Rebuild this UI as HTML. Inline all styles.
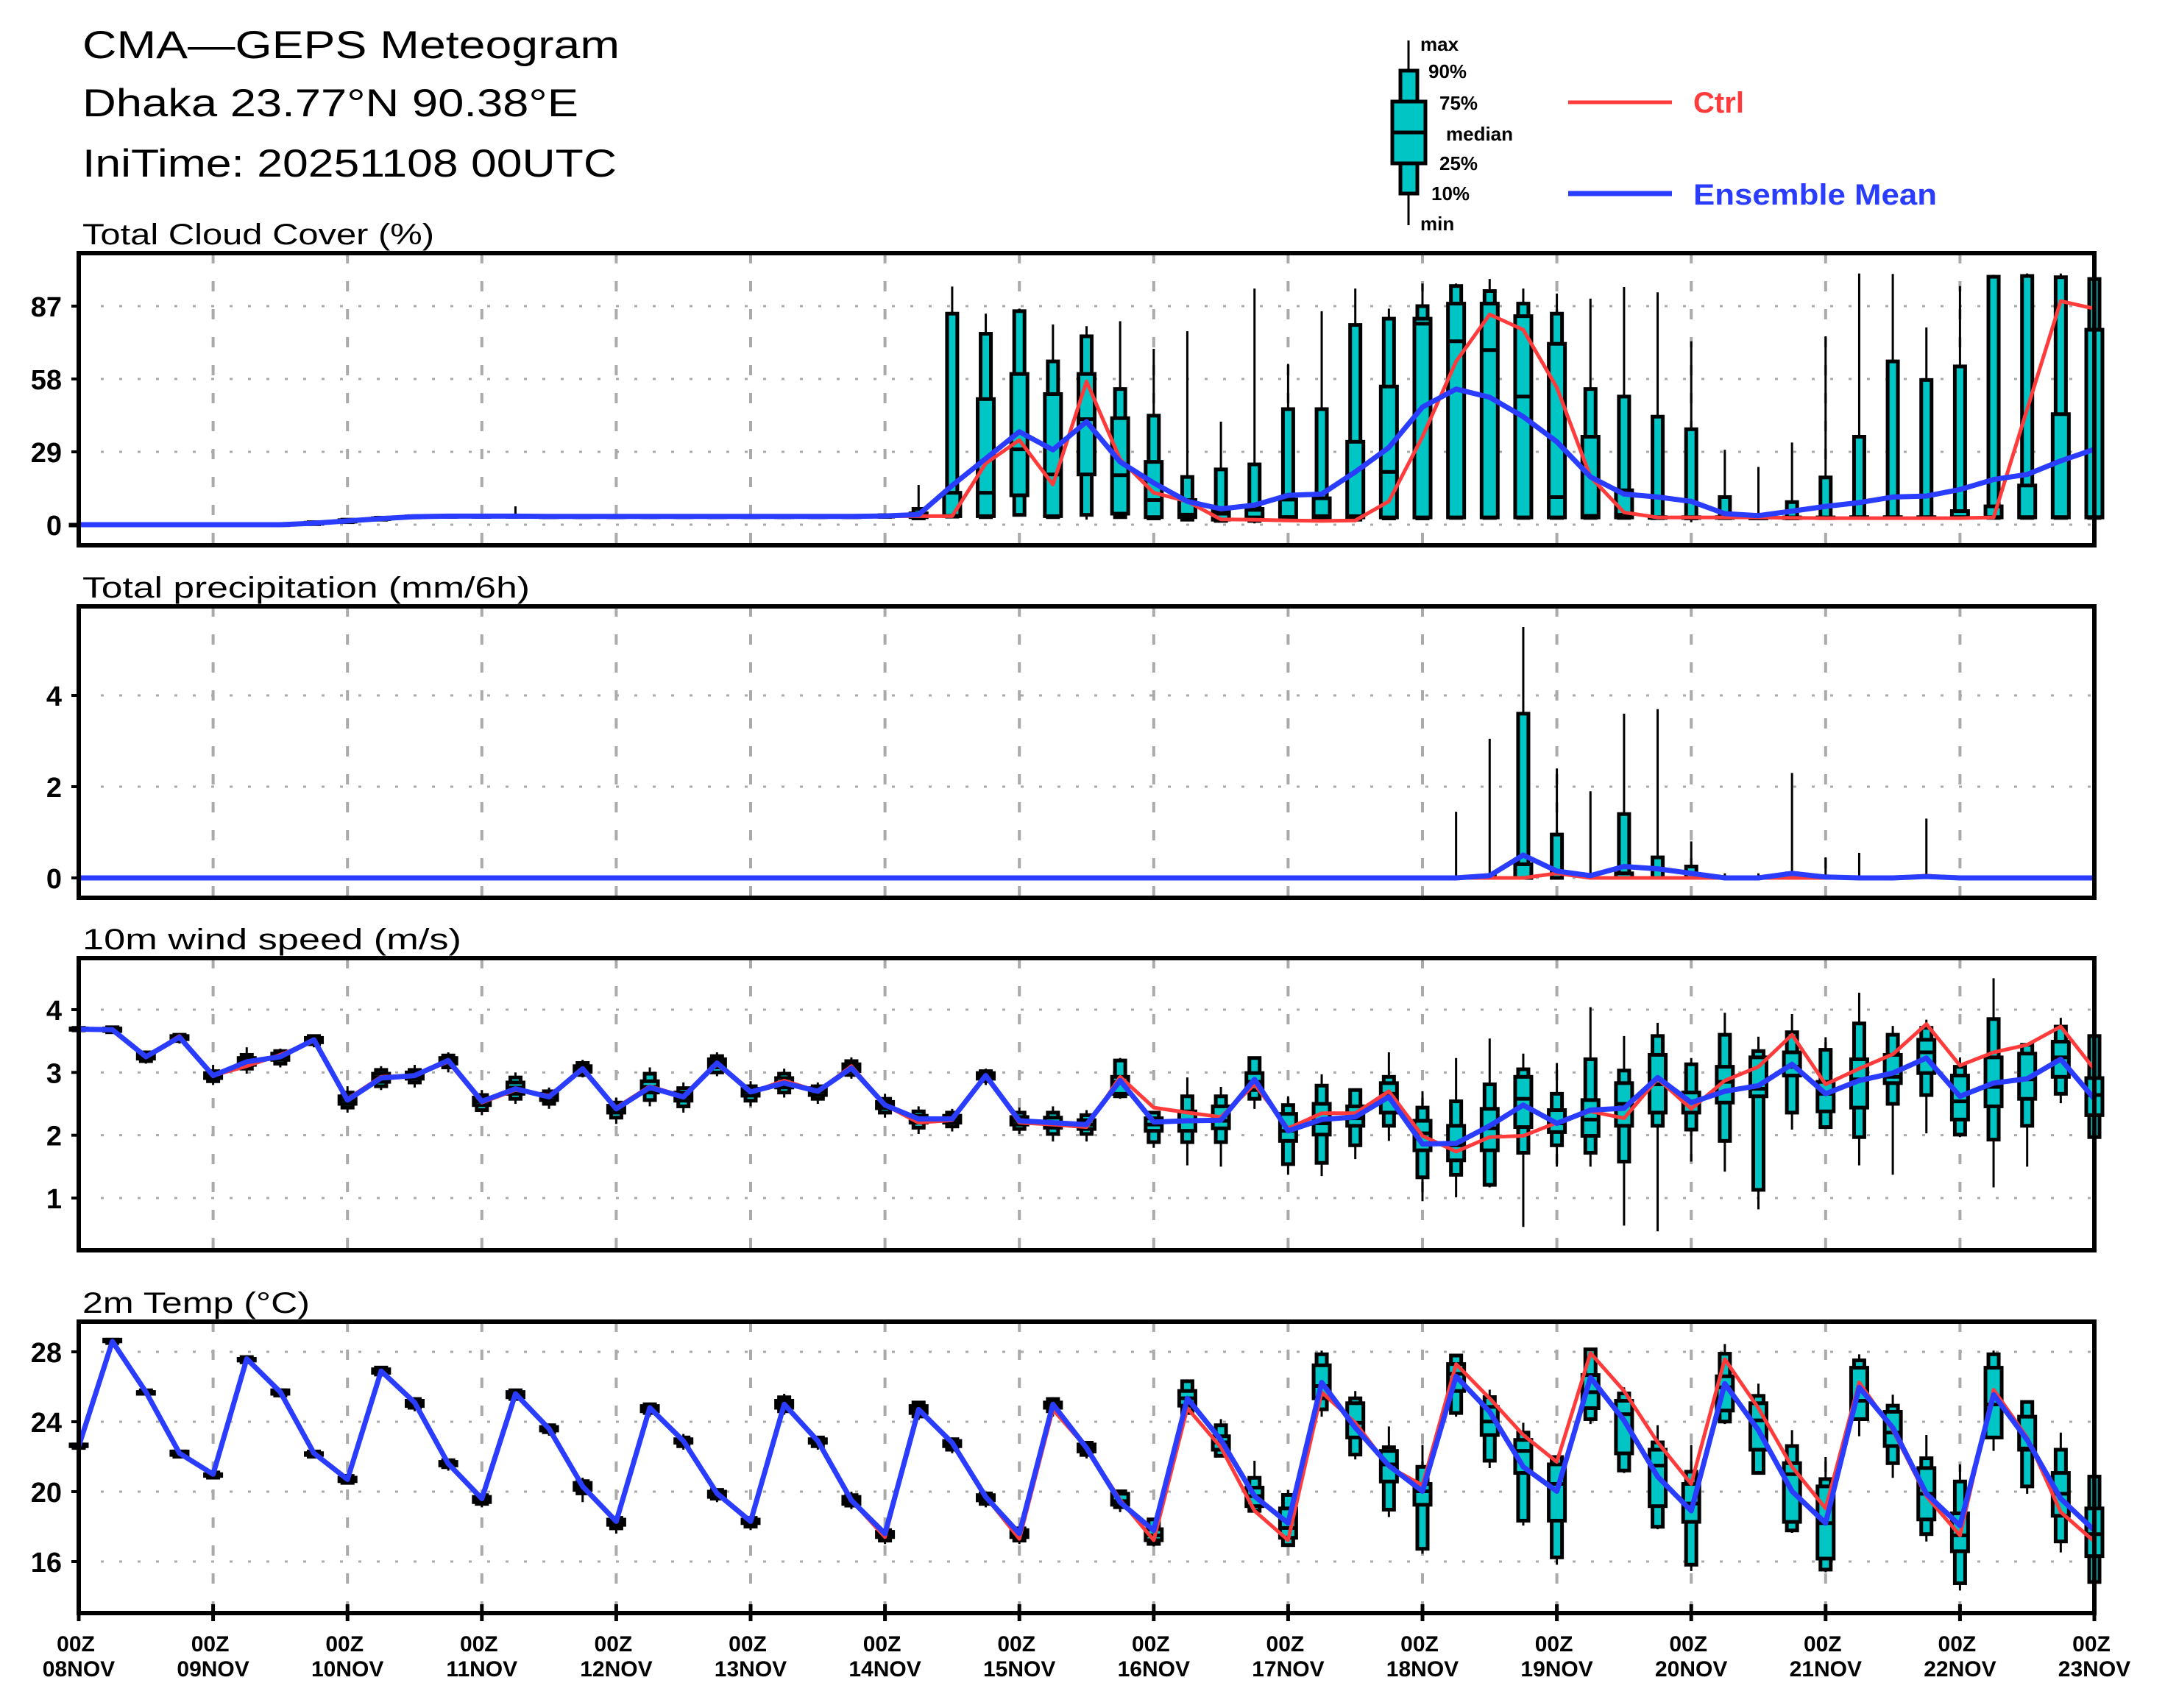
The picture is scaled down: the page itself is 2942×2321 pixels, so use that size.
<!DOCTYPE html>
<html><head><meta charset="utf-8"><style>
html,body{margin:0;padding:0;background:#fff;}
svg{display:block;font-family:"Liberation Sans",sans-serif;}
</style></head><body>
<svg id="chart" xmlns="http://www.w3.org/2000/svg" width="2942" height="2321" viewBox="0 0 2942 2321">
<rect width="2942" height="2321" fill="#fff"/>
<text x="112" y="79" font-size="53" textLength="730" lengthAdjust="spacingAndGlyphs">CMA—GEPS Meteogram</text>
<text x="112" y="158" font-size="53" textLength="674" lengthAdjust="spacingAndGlyphs">Dhaka 23.77°N 90.38°E</text>
<text x="112" y="240" font-size="53" textLength="726" lengthAdjust="spacingAndGlyphs">IniTime: 20251108 00UTC</text>
<g id="legend">
<line x1="1914" y1="55" x2="1914" y2="306" stroke="#000" stroke-width="3"/>
<rect x="1903" y="96" width="23" height="167" fill="#00c5c5" stroke="#000" stroke-width="5"/>
<rect x="1892" y="138" width="45" height="84" fill="#00c5c5" stroke="#000" stroke-width="5"/>
<line x1="1892" y1="180" x2="1937" y2="180" stroke="#000" stroke-width="5"/>
<g font-weight="bold" font-size="26">
<text x="1930" y="69">max</text>
<text x="1941" y="106">90%</text>
<text x="1956" y="149">75%</text>
<text x="1965" y="191">median</text>
<text x="1956" y="231">25%</text>
<text x="1945" y="272">10%</text>
<text x="1930" y="313">min</text>
</g>
<line x1="2131" y1="139" x2="2272" y2="139" stroke="#ff3b3b" stroke-width="5"/>
<text x="2301" y="153" font-size="40" font-weight="bold" fill="#ff3b3b" textLength="69" lengthAdjust="spacingAndGlyphs">Ctrl</text>
<line x1="2131" y1="263" x2="2272" y2="263" stroke="#2a3dff" stroke-width="7"/>
<text x="2301" y="278" font-size="40" font-weight="bold" fill="#2a3dff" textLength="331" lengthAdjust="spacingAndGlyphs">Ensemble Mean</text>
</g>
</svg>
<script>
// ---- time axis ----
const dayLabels = ["08NOV","09NOV","10NOV","11NOV","12NOV","13NOV","14NOV","15NOV","16NOV","17NOV","18NOV","19NOV","20NOV","21NOV","22NOV","23NOV"];
const nSteps = 61;

// ---- Total cloud cover (%) ----
const cloudTicks = [0,29,58,87];
const cloudCtrl = [0,0,0,0,0,0,0,0.5,1.4,2.3,3.1,3.3,3.3,3.3,3.2,3.2,3.2,3.2,3.2,3.2,3.2,3.2,3.2,3.2,3.4,3.4,3.4,24.4,33.7,16,57,26,12.7,9.3,2.1,2,1.7,1.5,1.7,9.3,35,65,83.7,77.6,54.6,19,4.9,2.9,2.9,2.9,2.9,2.7,2.6,2.6,2.6,2.6,2.6,2.9,46,89,86];
const cloudMean = [0,0,0,0,0,0,0,0.6,1.5,2.4,3.2,3.4,3.4,3.4,3.3,3.3,3.3,3.3,3.3,3.3,3.3,3.3,3.3,3.3,3.5,4,15.6,26.3,37,29.8,41,25,16.6,9.3,6.3,7.8,11.7,12.2,21,30.7,46.8,54,50.7,43,33,19,12.2,11,9.3,4.4,3.6,5.4,7.3,8.8,11,11.4,14,18,20,25.4,30];
const cloudMax = [0,0,0,0,0,0,0.3,1.2,2.5,3,3.5,3.6,3.6,7.3,3.5,3.5,3.5,3.5,3.5,3.5,3.5,3.5,3.5,3.5,4,15.8,94.8,84,86,79.7,79,81,70,77,41,94,64,85,94,86,96,96,97.8,94,92,90,94.6,92.5,73,29.8,23,32.7,75,100,99.8,78.5,95,99.5,100,100,97.8];
const cloudP90 = [0,0,0,0,0,0,0.2,1,2,2.8,3.4,3.5,3.5,3.5,3.4,3.4,3.4,3.4,3.4,3.4,3.4,3.4,3.4,3.4,3.8,6.3,84,76,85,65,75,54,43.4,19,22,24,46,46,79.5,82,87,95,93,88,84,54,51,43,38,11,2.9,9,18.8,35,65,57.6,63,98.7,99,98.5,97.8];
const cloudP75 = [0,0,0,0,0,0,0.1,0.8,1.8,2.6,3.3,3.4,3.4,3.4,3.3,3.3,3.3,3.3,3.3,3.3,3.3,3.3,3.3,3.3,3.6,4.5,12.7,50,60,52,60,42.4,25,9.8,5.4,6.3,10,10.5,33,55,82,88,88,83,72,35,13.7,3,3,3,2.8,2.9,2.9,3,3,3,5.4,7.3,15.6,44,77.6];
const cloudMed = [0,0,0,0,0,0,0,0.6,1.5,2.4,3.2,3.3,3.3,3.3,3.2,3.2,3.2,3.2,3.2,3.2,3.2,3.2,3.2,3.2,3.4,3.5,3.5,12.7,30,20,42,19.7,9.8,4,4.4,5.9,3,3.4,3.4,21,80,73,69.5,51,11,3.5,3.9,2.9,2.9,2.9,2.7,2.8,2.8,2.9,2.9,2.9,3,3,3,3,3];
const cloudP25 = [0,0,0,0,0,0,0,0.4,1.2,2.2,3,3.2,3.2,3.2,3.1,3.1,3.1,3.1,3.1,3.1,3.1,3.1,3.1,3.1,3.2,3,3.4,3.4,11.7,3.4,20,4.4,3,3,2,2.9,3,2.9,2.9,2.9,2.9,2.9,2.9,2.9,2.9,2.9,2.9,2.8,2.8,2.8,2.6,2.7,2.7,2.8,2.8,2.8,2.9,2.9,2.9,2.9,2.9];
const cloudP10 = [0,0,0,0,0,0,0,0.2,1,2,2.9,3.1,3.1,3.1,3,3,3,3,3,3,3,3,3,3,3.1,2.5,3.2,3,3.9,3,3.9,3,2.5,2,1.5,1.5,2.5,2.5,2,2.5,2.5,2.7,2.7,2.7,2.7,2.7,2.7,2.6,2.5,2.6,2.5,2.5,2.6,2.7,2.7,2.7,2.7,2.7,2.7,2.7,2.7];
const cloudMin = [0,0,0,0,0,0,0,0,0.8,1.8,2.8,3,3,3,2.9,2.9,2.9,2.9,2.9,2.9,2.9,2.9,2.9,2.9,3,2,3,2.7,3.4,2.9,2,2.4,2.1,1.5,1.2,0.5,2.4,2.4,1,2,2.4,2.5,2.5,2.4,2.4,2.4,2.4,1.9,1,2.4,2.4,2.4,2.5,2.5,2.5,2.5,2.5,2.5,2.5,2.5,2.5];

// ---- Total precipitation (mm/6h) ----
const precipTicks = [0,2,4];
const precipCtrl = [0,0,0,0,0,0,0,0,0,0,0,0,0,0,0,0,0,0,0,0,0,0,0,0,0,0,0,0,0,0,0,0,0,0,0,0,0,0,0,0,0,0,0,0,0.1,0,0,0,0,0,0,0,0,0,0,0.05,0,0,0,0,0];
const precipMean = [0,0,0,0,0,0,0,0,0,0,0,0,0,0,0,0,0,0,0,0,0,0,0,0,0,0,0,0,0,0,0,0,0,0,0,0,0,0,0,0,0,0,0.05,0.5,0.15,0.05,0.25,0.2,0.1,0,0,0.1,0.02,0,0,0.03,0,0,0,0,0];
const precipMax = [0,0,0,0,0,0,0,0,0,0,0,0,0,0,0,0,0,0,0,0,0,0,0,0,0,0,0,0,0,0,0,0,0,0,0,0,0,0,0,0,0,1.45,3.05,5.5,2.4,1.9,3.6,3.7,0.8,0.1,0.1,2.3,0.45,0.55,0.05,1.3,0.05,0,0,0,0.1];
const precipP90 = [0,0,0,0,0,0,0,0,0,0,0,0,0,0,0,0,0,0,0,0,0,0,0,0,0,0,0,0,0,0,0,0,0,0,0,0,0,0,0,0,0,0,0.05,3.6,0.95,0,1.4,0.45,0.25,0,0,0.1,0,0,0,0,0,0,0,0,0];
const precipP75 = [0,0,0,0,0,0,0,0,0,0,0,0,0,0,0,0,0,0,0,0,0,0,0,0,0,0,0,0,0,0,0,0,0,0,0,0,0,0,0,0,0,0,0,0.3,0,0,0.1,0,0,0,0,0,0,0,0,0,0,0,0,0,0];

// ---- 10m wind speed (m/s) ----
const windTicks = [1,2,3,4];
const windCtrl = [3.69,3.68,3.25,3.58,2.95,3.1,3.28,3.50,2.58,2.93,2.95,3.17,2.52,2.72,2.63,3.04,2.44,2.78,2.62,3.13,2.68,2.87,2.70,3.1,2.48,2.2,2.24,2.95,2.2,2.17,2.13,2.93,2.44,2.36,2.29,2.81,2.11,2.35,2.35,2.70,1.99,1.74,1.97,1.99,2.2,2.38,2.27,2.90,2.42,2.87,3.09,3.60,2.81,3.06,3.29,3.77,3.11,3.32,3.44,3.73,3.05];
const windMean = [3.69,3.68,3.25,3.56,2.95,3.17,3.25,3.52,2.56,2.91,2.95,3.19,2.54,2.74,2.61,3.06,2.42,2.76,2.61,3.15,2.69,2.83,2.70,3.07,2.48,2.26,2.26,2.95,2.23,2.20,2.17,2.87,2.21,2.23,2.24,2.89,2.07,2.25,2.29,2.61,1.86,1.87,2.15,2.48,2.19,2.40,2.43,2.92,2.52,2.70,2.79,3.13,2.66,2.87,2.99,3.23,2.62,2.83,2.90,3.21,2.58];
const windMax = [3.72,3.74,3.35,3.62,3.12,3.40,3.38,3.60,2.78,3.10,3.12,3.32,2.72,3.00,2.76,3.20,2.60,3.08,2.84,3.32,2.86,3.06,2.84,3.24,2.66,2.46,2.42,3.06,2.44,2.46,2.40,3.23,2.38,2.92,2.77,3.23,2.62,2.97,2.74,3.32,2.70,3.23,3.54,3.30,3.15,4.04,3.58,3.79,3.23,3.95,3.57,3.93,3.56,4.27,3.74,3.84,3.24,4.50,3.45,3.87,3.58];
const windP90 = [3.71,3.72,3.32,3.60,3.02,3.28,3.34,3.58,2.68,3.04,3.04,3.27,2.64,2.92,2.70,3.15,2.52,2.98,2.75,3.26,2.78,2.98,2.78,3.18,2.58,2.38,2.36,3.02,2.36,2.36,2.32,3.19,2.36,2.62,2.62,3.23,2.48,2.79,2.72,2.93,2.44,2.54,2.81,3.05,2.66,3.21,3.03,3.58,3.13,3.60,3.34,3.64,3.36,3.78,3.60,3.71,3.09,3.85,3.44,3.73,3.58];
const windP75 = [3.70,3.70,3.29,3.58,2.99,3.23,3.30,3.55,2.62,2.98,3.00,3.23,2.60,2.84,2.66,3.10,2.47,2.86,2.68,3.21,2.74,2.91,2.75,3.13,2.53,2.31,2.31,2.99,2.29,2.28,2.24,2.93,2.27,2.38,2.46,2.99,2.34,2.50,2.46,2.83,2.23,2.15,2.42,2.93,2.40,2.56,2.83,3.28,2.68,3.09,3.24,3.32,2.85,3.21,3.28,3.52,2.95,3.24,3.30,3.49,2.91];
const windMed = [3.69,3.68,3.26,3.56,2.95,3.18,3.25,3.52,2.56,2.92,2.95,3.19,2.54,2.76,2.62,3.06,2.42,2.77,2.61,3.15,2.69,2.84,2.70,3.08,2.48,2.26,2.26,2.95,2.23,2.20,2.17,2.85,2.17,2.23,2.23,2.85,2.07,2.19,2.27,2.66,2.03,1.84,2.11,2.58,2.19,2.25,2.50,2.81,2.54,2.85,2.74,3.09,2.66,2.89,2.93,3.32,2.54,2.77,2.89,3.24,2.64];
const windP25 = [3.68,3.66,3.22,3.53,2.91,3.12,3.20,3.48,2.50,2.85,2.90,3.14,2.48,2.66,2.56,3.01,2.36,2.68,2.55,3.08,2.63,2.76,2.64,3.02,2.43,2.20,2.20,2.90,2.17,2.12,2.10,2.66,2.07,2.07,2.11,2.72,1.91,2.01,2.15,2.36,1.76,1.60,1.76,2.13,2.05,1.99,2.15,2.36,2.36,2.52,2.62,2.95,2.38,2.44,2.83,2.99,2.25,2.46,2.58,2.93,2.32];
const windP10 = [3.67,3.64,3.18,3.50,2.86,3.06,3.14,3.45,2.44,2.78,2.84,3.08,2.40,2.58,2.50,2.96,2.28,2.56,2.46,3.00,2.55,2.68,2.58,2.96,2.36,2.12,2.14,2.86,2.10,2.02,2.02,2.62,1.89,1.89,1.89,2.58,1.54,1.56,1.84,2.15,1.33,1.37,1.21,1.72,1.84,1.72,1.58,2.15,2.09,1.91,1.13,2.36,2.13,1.97,2.50,2.64,2.01,1.93,2.15,2.66,1.97];
const windMin = [3.66,3.62,3.14,3.46,2.80,2.98,3.08,3.40,2.36,2.72,2.76,3.00,2.32,2.50,2.42,2.92,2.18,2.46,2.36,2.94,2.46,2.60,2.50,2.90,2.28,2.02,2.06,2.80,2.02,1.90,1.90,2.58,1.80,1.52,1.50,2.42,1.37,1.35,1.62,1.91,0.95,1.01,1.17,0.54,1.50,1.50,0.56,0.47,1.58,1.42,0.82,2.09,2.11,1.52,1.37,2.03,1.97,1.17,1.50,2.51,1.84];

// ---- 2m temperature (°C) ----
const tempTicks = [16,20,24,28];
const tempCtrl = [22.6,28.6,25.7,22.2,21.0,27.6,25.7,22.2,20.7,26.9,25.1,21.6,19.6,25.6,23.6,20.3,18.3,24.8,22.9,19.9,18.3,25.0,22.9,19.5,17.4,24.7,22.8,19.7,17.3,24.7,22.5,19.53,17.22,24.78,22.54,18.90,17.22,25.69,23.94,21.42,20.37,27.30,25.34,23.24,21.70,27.93,25.76,22.82,20.44,27.58,24.78,21.42,19.04,26.25,23.52,19.74,17.5,25.83,23.10,18.83,17.15];
const tempMean = [22.6,28.6,25.7,22.2,21.0,27.6,25.7,22.2,20.7,26.9,25.1,21.6,19.6,25.6,23.6,20.3,18.3,24.8,22.9,19.9,18.3,25.0,22.9,19.5,17.6,24.7,22.8,19.7,17.6,25.0,22.5,19.39,17.78,25.34,22.96,19.74,18.2,26.25,23.66,21.49,20.02,26.6,24.57,21.42,20.02,26.53,24.08,20.86,18.9,26.18,23.52,20.02,18.2,25.97,23.66,19.88,18.06,25.55,22.96,19.60,17.78];
const tempMax = [22.7,28.8,25.8,22.4,21.2,27.8,25.9,22.3,21.0,27.2,25.4,21.9,19.9,25.9,23.9,20.8,18.6,25.1,23.3,20.2,18.6,25.6,23.2,20.0,17.9,25.2,23.1,20.0,18.0,25.4,22.9,20.09,18.41,26.32,24.15,21.77,20.09,28.07,25.76,23.73,22.68,27.86,25.83,23.94,22.05,28.14,25.97,23.80,22.68,28.45,26.18,23.52,21.98,27.86,25.55,23.24,21.56,28.07,25.20,23.38,20.86];
const tempP90 = [22.7,28.7,25.8,22.3,21.1,27.7,25.8,22.3,20.9,27.1,25.3,21.8,19.8,25.8,23.8,20.6,18.5,25.0,23.1,20.1,18.5,25.4,23.1,19.8,17.8,25.1,23.0,19.9,17.9,25.3,22.8,20.02,18.41,26.32,23.80,20.79,19.81,27.86,25.34,22.54,21.42,27.79,25.41,23.38,21.98,28.14,25.62,22.82,21.14,27.89,25.48,22.61,20.72,27.51,24.92,21.91,20.58,27.86,25.13,22.40,20.86];
const tempP75 = [22.7,28.7,25.7,22.3,21.0,27.6,25.8,22.2,20.8,27.0,25.2,21.7,19.7,25.7,23.7,20.5,18.4,24.9,23.0,20.0,18.4,25.2,23.0,19.7,17.7,24.9,22.9,19.8,17.8,25.1,22.7,19.88,17.85,25.76,23.17,20.23,19.04,27.23,25.06,22.33,20.44,27.30,24.85,22.96,21.56,26.67,25.20,22.40,20.44,26.60,25.06,21.63,20.30,27.09,24.57,21.35,18.76,27.09,24.29,21.07,19.04];
const tempMed = [22.6,28.6,25.7,22.2,21.0,27.6,25.7,22.2,20.7,26.9,25.1,21.6,19.6,25.6,23.6,20.3,18.3,24.8,22.9,19.9,18.3,25.0,22.9,19.5,17.6,24.7,22.8,19.7,17.6,25.0,22.5,19.46,17.50,25.34,22.82,19.74,17.92,26.04,23.94,21.56,20.02,26.74,24.01,22.33,20.44,25.69,24.43,21.49,19.32,25.97,24.08,21.00,18.2,25.20,23.38,19.88,17.50,24.99,22.47,19.88,17.57];
const tempP25 = [22.6,28.6,25.6,22.1,20.9,27.5,25.6,22.1,20.6,26.8,24.9,21.5,19.4,25.4,23.5,20.1,18.1,24.6,22.8,19.7,18.2,24.8,22.8,19.3,17.4,24.5,22.6,19.5,17.4,24.8,22.3,19.25,17.22,24.92,22.40,19.17,17.36,25.34,23.10,20.58,19.25,25.76,23.24,21.07,18.34,24.78,22.19,19.17,18.27,24.64,22.40,18.27,16.17,24.15,22.61,18.41,16.59,23.10,22.40,18.62,16.31];
const tempP10 = [22.5,28.5,25.6,22.0,20.8,27.4,25.5,22.0,20.5,26.7,24.8,21.4,19.3,25.3,23.4,19.9,17.9,24.5,22.6,19.6,18.0,24.6,22.6,19.2,17.2,24.3,22.4,19.3,17.2,24.6,22.1,19.11,17.01,24.50,22.05,18.90,16.94,24.71,22.12,18.97,16.73,24.50,21.77,18.34,16.24,24.15,21.21,17.99,15.82,24.01,21.07,17.78,15.54,24.15,21.63,17.57,14.76,23.10,20.30,17.15,14.83];
const tempMin = [22.5,28.5,25.5,21.9,20.7,27.3,25.4,21.9,20.4,26.6,24.6,21.2,19.1,25.2,23.2,19.4,17.6,24.3,22.4,19.4,17.8,24.4,22.4,19.0,17.0,24.1,22.2,19.1,17.0,24.3,21.9,18.83,16.87,24.50,22.05,18.90,16.87,24.29,21.84,18.55,16.45,24.29,21.35,18.06,15.82,23.87,21.07,17.85,15.46,23.87,21.00,17.64,15.39,23.17,20.79,17.15,14.34,22.33,19.88,16.52,14.83];

// ---- layout ----
const NS = "http://www.w3.org/2000/svg";
const svg = document.getElementById("chart");
const X0 = 107, X1 = 2846;
function xScale(i){ return X0 + (X1 - X0) * i / (nSteps - 1); }
function mk(tag, attrs, parent){
  const e = document.createElementNS(NS, tag);
  for (const k in attrs) e.setAttribute(k, attrs[k]);
  (parent || svg).appendChild(e);
  return e;
}
function linY(v0, y0, v1, y1){ return v => y0 + (v - v0) * (y1 - y0) / (v1 - v0); }

const panels = [
  {key:"cloud", title:"Total Cloud Cover (%)", titleW:478, top:344, bot:741, y:linY(0,713,87,416), ticks:cloudTicks,
   ctrl:cloudCtrl, mean:cloudMean, box:[cloudMin,cloudP10,cloudP25,cloudMed,cloudP75,cloudP90,cloudMax]},
  {key:"precip", title:"Total precipitation (mm/6h)", titleW:608, top:824, bot:1220, y:linY(0,1193,4,945), ticks:precipTicks,
   ctrl:precipCtrl, mean:precipMean, box:null},
  {key:"wind", title:"10m wind speed (m/s)", titleW:515, top:1302, bot:1699, y:linY(1,1628,4,1372), ticks:windTicks,
   ctrl:windCtrl, mean:windMean, box:[windMin,windP10,windP25,windMed,windP75,windP90,windMax]},
  {key:"temp", title:"2m Temp (°C)", titleW:309, top:1796, bot:2192, y:linY(16,2122,28,1837), ticks:tempTicks,
   ctrl:tempCtrl, mean:tempMean, box:[tempMin,tempP10,tempP25,tempMed,tempP75,tempP90,tempMax]}
];

panels.forEach(p => {
  const g = mk("g", {});
  
  
  const t = mk("text", {x:112, y:p.top-12, "font-size":40, textLength:p.titleW, lengthAdjust:"spacingAndGlyphs"}, g);
  
  
  t.textContent = p.title;
  for (let d = 1; d < dayLabels.length - 1; d++){
    const gx = xScale(d*4);
    const vl = mk("line", {x1:gx, y1:p.top, x2:gx, y2:p.bot, stroke:"#aaa", "stroke-width":4, "stroke-dasharray":"14 24"}, g);
    
    
  }
  p.ticks.forEach(tv => {
    const gy = p.y(tv);
    const hl = mk("line", {x1:X0+30, y1:gy, x2:X1, y2:gy, stroke:"#aaa", "stroke-width":3, "stroke-dasharray":"4 21"}, g);
    
    
    mk("line", {x1:X0-10, y1:gy, x2:X0, y2:gy, stroke:"#000", "stroke-width":4}, g);
    const tl = mk("text", {x:84, y:gy+14, "font-size":38, "font-weight":"bold", "text-anchor":"end"}, g);
    
    
    tl.textContent = String(tv);
  });
  if (p.box){
    const [mn,p10,p25,md,p75,p90,mx] = p.box;
    for (let i = 0; i < nSteps; i++){
      const bx = xScale(i);
      const bg = mk("g", {}, g);
      
      
      mk("line", {x1:bx, y1:p.y(mx[i]), x2:bx, y2:p.y(mn[i]), stroke:"#000", "stroke-width":3}, bg);
      const ya = p.y(p90[i]), yb = p.y(p10[i]);
      mk("rect", {x:bx-7, y:ya, width:14, height:Math.max(yb-ya,1), fill:"#00c5c5", stroke:"#000", "stroke-width":5}, bg);
      const yc = p.y(p75[i]), yd = p.y(p25[i]);
      mk("rect", {x:bx-11, y:yc, width:22, height:Math.max(yd-yc,1), fill:"#00c5c5", stroke:"#000", "stroke-width":5}, bg);
      mk("line", {x1:bx-11, y1:p.y(md[i]), x2:bx+11, y2:p.y(md[i]), stroke:"#000", "stroke-width":5}, bg);
    }
  } else {
    for (let i = 0; i < nSteps; i++){
      if (precipMax[i] <= 0) continue;
      const bx = xScale(i);
      const bg = mk("g", {}, g);
      
      
      mk("line", {x1:bx, y1:p.y(precipMax[i]), x2:bx, y2:p.y(0), stroke:"#000", "stroke-width":3}, bg);
      if (precipP90[i] > 0){
        mk("rect", {x:bx-7, y:p.y(precipP90[i]), width:14, height:p.y(0)-p.y(precipP90[i]), fill:"#00c5c5", stroke:"#000", "stroke-width":5}, bg);
      }
      if (precipP75[i] > 0){
        mk("rect", {x:bx-11, y:p.y(precipP75[i]), width:22, height:p.y(0)-p.y(precipP75[i]), fill:"#00c5c5", stroke:"#000", "stroke-width":5}, bg);
      }
    }
  }
  const pts = arr => arr.map((v,i) => xScale(i).toFixed(1) + "," + p.y(v).toFixed(1)).join(" ");
  const cl = mk("polyline", {points:pts(p.ctrl), fill:"none", stroke:"#ff3b3b", "stroke-width":5, "stroke-linejoin":"round"}, g);
  
  
  const ml = mk("polyline", {points:pts(p.mean), fill:"none", stroke:"#2a3dff", "stroke-width":7, "stroke-linejoin":"round"}, g);
  
  
  const fr = mk("rect", {x:X0, y:p.top, width:X1-X0, height:p.bot-p.top, fill:"none", stroke:"#000", "stroke-width":6}, g);
  
  
});

const xa = mk("g", {});


dayLabels.forEach((lab, d) => {
  const tx = xScale(d*4);
  mk("line", {x1:tx, y1:2180, x2:tx, y2:2203, stroke:"#000", "stroke-width":5}, xa);
  const t1 = mk("text", {x:tx-4, y:2244, "font-size":30, "font-weight":"bold", "text-anchor":"middle"}, xa);
  
  
  t1.textContent = "00Z";
  const t2 = mk("text", {x:tx, y:2278, "font-size":30, "font-weight":"bold", "text-anchor":"middle"}, xa);
  
  
  t2.textContent = lab;
});
</script>
</body></html>
